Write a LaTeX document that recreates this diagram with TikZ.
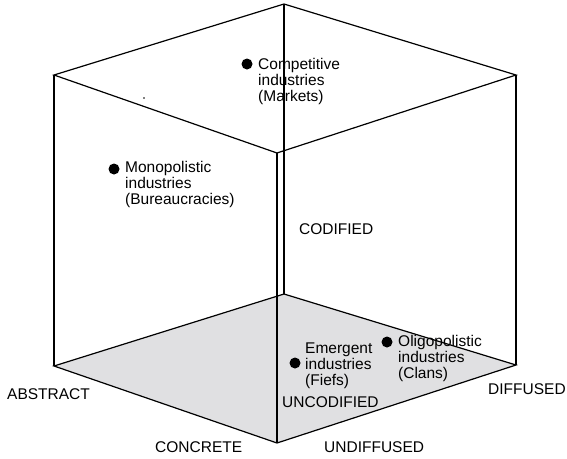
\documentclass[tikz,border=0pt]{standalone}
\usepackage{fontspec}
\setmainfont{Liberation Sans}
\definecolor{floorgray}{RGB}{224,224,226}
\begin{document}
\begin{tikzpicture}[x=1pt,y=-1pt,
  edge/.style={line width=1.2pt,line join=miter},
  lbl/.style={inner sep=0pt,font=\fontsize{15.5}{16}\selectfont},
  txt/.style={lbl,align=left,anchor=west},
  blob/.style={circle,fill=black,inner sep=0pt,minimum size=11pt}]
\useasboundingbox (0,0) rectangle (567,458);
% corners
\coordinate (TL) at (54,75);
\coordinate (TB) at (284,4);
\coordinate (TR) at (516,75);
\coordinate (TF) at (277,153);
\coordinate (BL) at (54,366);
\coordinate (BB) at (284,294);
\coordinate (BR) at (516,365);
\coordinate (BF) at (277,443);
% floor
\fill[floorgray] (BL) -- (BB) -- (BR) -- (BF) -- cycle;
% edges
\draw[edge] (TL) -- (TB) -- (TR) -- (TF) -- cycle;
\draw[edge] (BL) -- (BB) -- (BR) -- (BF) -- cycle;
\draw[edge] (TL) -- (BL);
\draw[edge] (TR) -- (BR);
\draw[edge] (TB) -- (BB);
\draw[edge] (TF) -- (BF);
% stray dot
\fill (144,98) circle (0.8pt);
% points
\node[blob] (d1) at (247,64) {};
\node[txt] (t1) at (258,81) {Competitive\\industries\\(Markets)};
\node[blob] (d2) at (114,169) {};
\node[txt] (t2) at (125,184) {Monopolistic\\industries\\(Bureaucracies)};
\node[blob] (d3) at (295,363) {};
\node[txt] (t3) at (305,366) {Emergent\\industries\\(Fiefs)};
\node[blob] (d4) at (387,342) {};
\node[txt] (t4) at (398,358) {Oligopolistic\\industries\\(Clans)};
% axis labels
\node[lbl,anchor=west] (cod) at (299,229) {CODIFIED};
\node[lbl,anchor=west] (unc) at (282,402) {UNCODIFIED};
\node[lbl,anchor=west] (abs) at (7,394) {ABSTRACT};
\node[lbl,anchor=west] (con) at (155,447) {CONCRETE};
\node[lbl,anchor=west] (und) at (324,447) {UNDIFFUSED};
\node[lbl,anchor=west] (dif) at (488,389) {DIFFUSED};
\end{tikzpicture}
\end{document}
